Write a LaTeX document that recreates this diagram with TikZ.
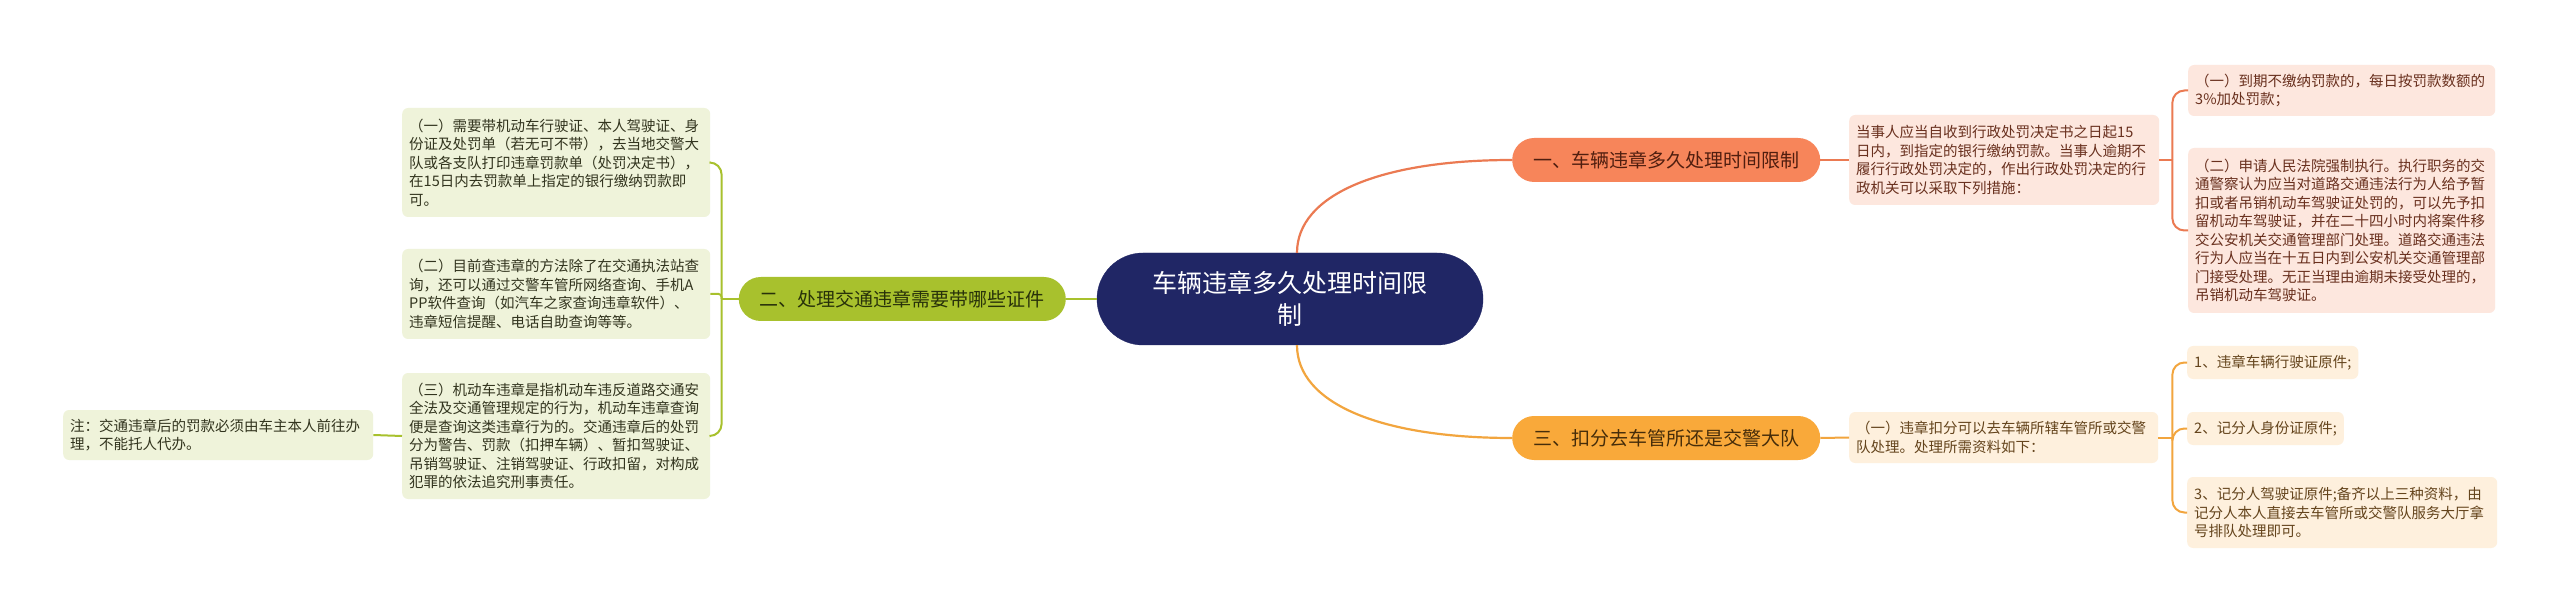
\documentclass[tikz,border=0pt]{standalone}
\usepackage{fontspec}
\newfontfamily\cjk{Noto Sans CJK SC}
\definecolor{cfill}{RGB}{32,38,101}
\definecolor{rfill}{RGB}{247,133,90}
\definecolor{rline}{RGB}{235,122,82}
\definecolor{gfill}{RGB}{168,193,45}
\definecolor{gline}{RGB}{168,193,45}
\definecolor{ofill}{RGB}{249,169,58}
\definecolor{oline}{RGB}{242,165,62}
\definecolor{gdet}{RGB}{239,243,218}
\definecolor{rdet}{RGB}{253,231,222}
\definecolor{odet}{RGB}{254,240,221}
\definecolor{gtext}{RGB}{50,52,30}
\definecolor{rtext}{RGB}{105,48,30}
\definecolor{otext}{RGB}{100,68,28}
\begin{document}
\begin{tikzpicture}[x=1pt,y=-1pt,
  detail/.style={anchor=west, rounded corners=6pt, inner xsep=7pt, inner ysep=3pt, align=left,
     font=\cjk\fontsize{14.5}{18.5}\selectfont},
  gdetail/.style={detail, fill=gdet, text=gtext},
  rdetail/.style={detail, fill=rdet, text=rtext},
  odetail/.style={detail, fill=odet, text=otext},
  branch/.style={anchor=west, rounded corners=22pt, minimum height=44pt, inner xsep=21pt,
     font=\cjk\fontsize{19}{22}\selectfont},
  mainline/.style={line width=2.2pt},
  subline/.style={line width=2pt, rounded corners=12pt}]
\fill[white] (0,0) rectangle (2560,612);
\useasboundingbox (0,0) rectangle (2560,612);

% central
\node[fill=cfill, draw=cfill, rounded corners=46pt, minimum width=386pt, minimum height=92pt,
  text=white, align=center, font=\cjk\fontsize{25}{32}\selectfont] (c) at (1290,299)
  {车辆违章多久处理时间限\\制};

% branches
\node[branch, fill=rfill, text={rgb,255:red,80;green,30;blue,15}] (b1) at (1512,160) {一、车辆违章多久处理时间限制};
\node[branch, fill=ofill, text={rgb,255:red,70;green,45;blue,10}] (b3) at (1512,438) {三、扣分去车管所还是交警大队};
\node[branch, fill=gfill, text={rgb,255:red,40;green,50;blue,10}, anchor=east] (b2) at (1066,299) {二、处理交通违章需要带哪些证件};

% left details
\node[gdetail, text width=294pt, minimum height=109pt] (g1) at (402,162.5)
 {（一）需要带机动车行驶证、本人驾驶证、身\\份证及处罚单（若无可不带），去当地交警大\\队或各支队打印违章罚款单（处罚决定书），\\在15日内去罚款单上指定的银行缴纳罚款即\\可。};
\node[gdetail, text width=294pt, minimum height=90pt] (g2) at (402,294)
 {（二）目前查违章的方法除了在交通执法站查\\询，还可以通过交警车管所网络查询、手机A\\PP软件查询（如汽车之家查询违章软件）、\\违章短信提醒、电话自助查询等等。};
\node[gdetail, text width=294pt, minimum height=126pt] (g3) at (402,436)
 {（三）机动车违章是指机动车违反道路交通安\\全法及交通管理规定的行为，机动车违章查询\\便是查询这类违章行为的。交通违章后的处罚\\分为警告、罚款（扣押车辆）、暂扣驾驶证、\\吊销驾驶证、注销驾驶证、行政扣留，对构成\\犯罪的依法追究刑事责任。};
\node[gdetail, text width=296pt, minimum height=50pt] (n) at (63,435)
 {注：交通违章后的罚款必须由车主本人前往办\\理，不能托人代办。};

% right details (branch 1)
\node[rdetail, text width=296pt, minimum height=90pt] (r0) at (1849,160)
 {当事人应当自收到行政处罚决定书之日起15\\日内，到指定的银行缴纳罚款。当事人逾期不\\履行行政处罚决定的，作出行政处罚决定的行\\政机关可以采取下列措施：};
\node[rdetail, text width=293pt, minimum height=51pt] (r1) at (2188,90.5)
 {（一）到期不缴纳罚款的，每日按罚款数额的\\3\%加处罚款；};
\node[rdetail, text width=293pt, minimum height=165pt] (r2) at (2188,230.5)
 {（二）申请人民法院强制执行。执行职务的交\\通警察认为应当对道路交通违法行为人给予暂\\扣或者吊销机动车驾驶证处罚的，可以先予扣\\留机动车驾驶证，并在二十四小时内将案件移\\交公安机关交通管理部门处理。道路交通违法\\行为人应当在十五日内到公安机关交通管理部\\门接受处理。无正当理由逾期未接受处理的，\\吊销机动车驾驶证。};

% right details (branch 3)
\node[odetail, text width=295pt, minimum height=51pt] (r3) at (1849,437.5)
 {（一）违章扣分可以去车辆所辖车管所或交警\\队处理。处理所需资料如下：};
\node[odetail, minimum height=33pt] (r4) at (2187,362.5) {1、违章车辆行驶证原件;};
\node[odetail, minimum height=33pt] (r5) at (2187,428.5) {2、记分人身份证原件;};
\node[odetail, text width=296pt, minimum height=71pt] (r6) at (2187,512.5)
 {3、记分人驾驶证原件;备齐以上三种资料，由\\记分人本人直接去车管所或交警队服务大厅拿\\号排队处理即可。};

% main connectors
\draw[mainline, rline] ([xshift=7pt]c.north) .. controls +(0,-58) and +(-132,0) .. (b1.west);
\draw[mainline, oline] ([xshift=7pt]c.south) .. controls +(0,58) and +(-132,0) .. (b3.west);
\draw[mainline, gline] (c.west) -- (b2.east);

% green bracket
\draw[subline, gline] (b2.west) -- ++(-17,0) coordinate (gt);
\draw[subline, gline] (gt) |- (g1.east);
\draw[subline, gline] (gt) |- (g3.east);
\draw[subline, gline, rounded corners=3pt] (gt) |- (g2.east);
\draw[subline, gline] (g3.west) -- (n.east);

% red bracket
\draw[subline, rline] (b1.east) -- (r0.west);
\draw[subline, rline] (r0.east) -- ++(13,0) coordinate (rt);
\draw[subline, rline] (rt) |- (r1.west);
\draw[subline, rline] (rt) |- (r2.west);

% orange bracket
\draw[subline, oline] (b3.east) -- (r3.west);
\draw[subline, oline] (r3.east) -- ++(14,0) coordinate (ot);
\draw[subline, oline] (ot) |- (r4.west);
\draw[subline, oline] (ot) |- (r5.west);
\draw[subline, oline] (ot) |- (r6.west);
\end{tikzpicture}
\end{document}
